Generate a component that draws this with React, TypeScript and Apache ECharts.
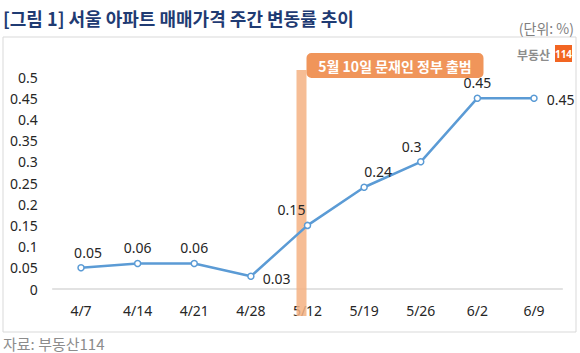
import React, { useEffect, useRef } from "react";
import * as echarts from "echarts";

const categories = ["4/7", "4/14", "4/21", "4/28", "5/12", "5/19", "5/26", "6/2", "6/9"];
const values = [0.05, 0.06, 0.06, 0.03, 0.15, 0.24, 0.3, 0.45, 0.45];
const yTicks = { min: 0, max: 0.5, interval: 0.05 };
const eventCategory = "5/12";
const eventLabel = "5월 10일 문재인 정부 출범";
const titleText = "[그림 1] 서울 아파트 매매가격 주간 변동률 추이";
const unitText = "(단위: %)";
const sourceText = "자료: 부동산114";

const KR = '"Noto Sans CJK KR", "Noto Sans", sans-serif';
const NUM = '"Noto Sans", "Noto Sans CJK KR", sans-serif';

export default function App() {
  const ref = useRef<HTMLDivElement>(null);
  useEffect(() => {
    const chart = echarts.init(ref.current!, null, { renderer: "svg" });
    const labelTweaks: Record<number, any> = {
      0: { offset: [7, 0] },
      3: { position: "right", distance: 8, offset: [0, 2] },
      4: { offset: [-16, 0] },
      5: { offset: [14, 0] },
      6: { offset: [-9, 0] },
      8: { position: "right", distance: 9, offset: [0, 1] },
    };
    const seriesData = values.map((v, i) => {
      const d: any = { value: v };
      if (labelTweaks[i]) d.label = labelTweaks[i];
      return d;
    });
    chart.setOption({
      animation: false,
      backgroundColor: "#ffffff",
      grid: { left: 52.7, right: 17.7, top: 77, bottom: 64 },
      xAxis: {
        type: "category",
        data: categories,
        axisLine: { lineStyle: { color: "#d9d9d9", width: 1.5 } },
        axisTick: { show: false },
        axisLabel: { color: "#262626", fontFamily: NUM, fontSize: 14, margin: 14 },
      },
      yAxis: {
        type: "value",
        min: yTicks.min,
        max: yTicks.max,
        interval: yTicks.interval,
        axisLine: { show: false },
        axisTick: { show: false },
        splitLine: { show: false },
        axisLabel: {
          color: "#262626",
          fontFamily: NUM,
          fontSize: 14,
          margin: 15,
          formatter: (v: number) => String(parseFloat(v.toFixed(2))),
        },
      },
      series: [
        {
          type: "line",
          data: seriesData,
          symbol: "circle",
          symbolSize: 6,
          z: 5,
          lineStyle: { color: "#5b9bd5", width: 2.5 },
          itemStyle: { color: "#ffffff", borderColor: "#5b9bd5", borderWidth: 1.5 },
          label: {
            show: true,
            position: "top",
            distance: 5,
            color: "#262626",
            fontFamily: NUM,
            fontSize: 14,
          },
        },
      ],
    });

    const idx = categories.indexOf(eventCategory);
    const px = chart.convertToPixel({ xAxisIndex: 0 }, idx) as number;
    chart.setOption({
      graphic: [
        {
          type: "rect",
          shape: { x: 3, y: 37, width: 573, height: 295 },
          style: { fill: "none", stroke: "#d9d9d9", lineWidth: 1 },
          z: 0,
          silent: true,
        },
        {
          type: "text",
          x: 3,
          y: 18,
          style: {
            text: titleText,
            fill: "#1f3b73",
            font: `bold 18px ${KR}`,
            textVerticalAlign: "middle",
          },
        },
        {
          type: "text",
          x: 574,
          y: 28,
          style: {
            text: unitText,
            fill: "#7f7f7f",
            font: `14px ${KR}`,
            textAlign: "right",
            textVerticalAlign: "middle",
          },
        },
        {
          type: "rect",
          shape: { x: px - 11, y: 70, width: 10, height: 246 },
          style: { fill: "#f4b183", opacity: 0.85 },
          z: 2,
        },
        {
          type: "rect",
          shape: { x: px - 1, y: 53, width: 177, height: 25, r: 5 },
          style: { fill: "#f0955a" },
          z: 10,
        },
        {
          type: "text",
          x: px - 1 + 88.5,
          y: 66,
          z: 11,
          style: {
            text: eventLabel,
            fill: "#ffffff",
            font: `bold 14px ${KR}`,
            textAlign: "center",
            textVerticalAlign: "middle",
          },
        },
        {
          type: "text",
          x: 550,
          y: 54,
          style: {
            text: "부동산",
            fill: "#8c8c8c",
            font: `bold 12px ${KR}`,
            textAlign: "right",
            textVerticalAlign: "middle",
          },
        },
        {
          type: "rect",
          shape: { x: 555, y: 45, width: 17, height: 17 },
          style: { fill: "#f26522" },
        },
        {
          type: "text",
          x: 563.5,
          y: 54,
          style: {
            text: "114",
            fill: "#ffffff",
            font: `bold 10px ${NUM}`,
            textAlign: "center",
            textVerticalAlign: "middle",
          },
        },
        {
          type: "text",
          x: 3,
          y: 343,
          style: {
            text: sourceText,
            fill: "#8c8c8c",
            font: `15px ${KR}`,
            textVerticalAlign: "middle",
          },
        },
      ],
    });
    return () => chart.dispose();
  }, []);
  return (
    <div
      ref={ref}
      style={{ position: "fixed", left: 0, top: 0, width: 580, height: 353 }}
    />
  );
}
